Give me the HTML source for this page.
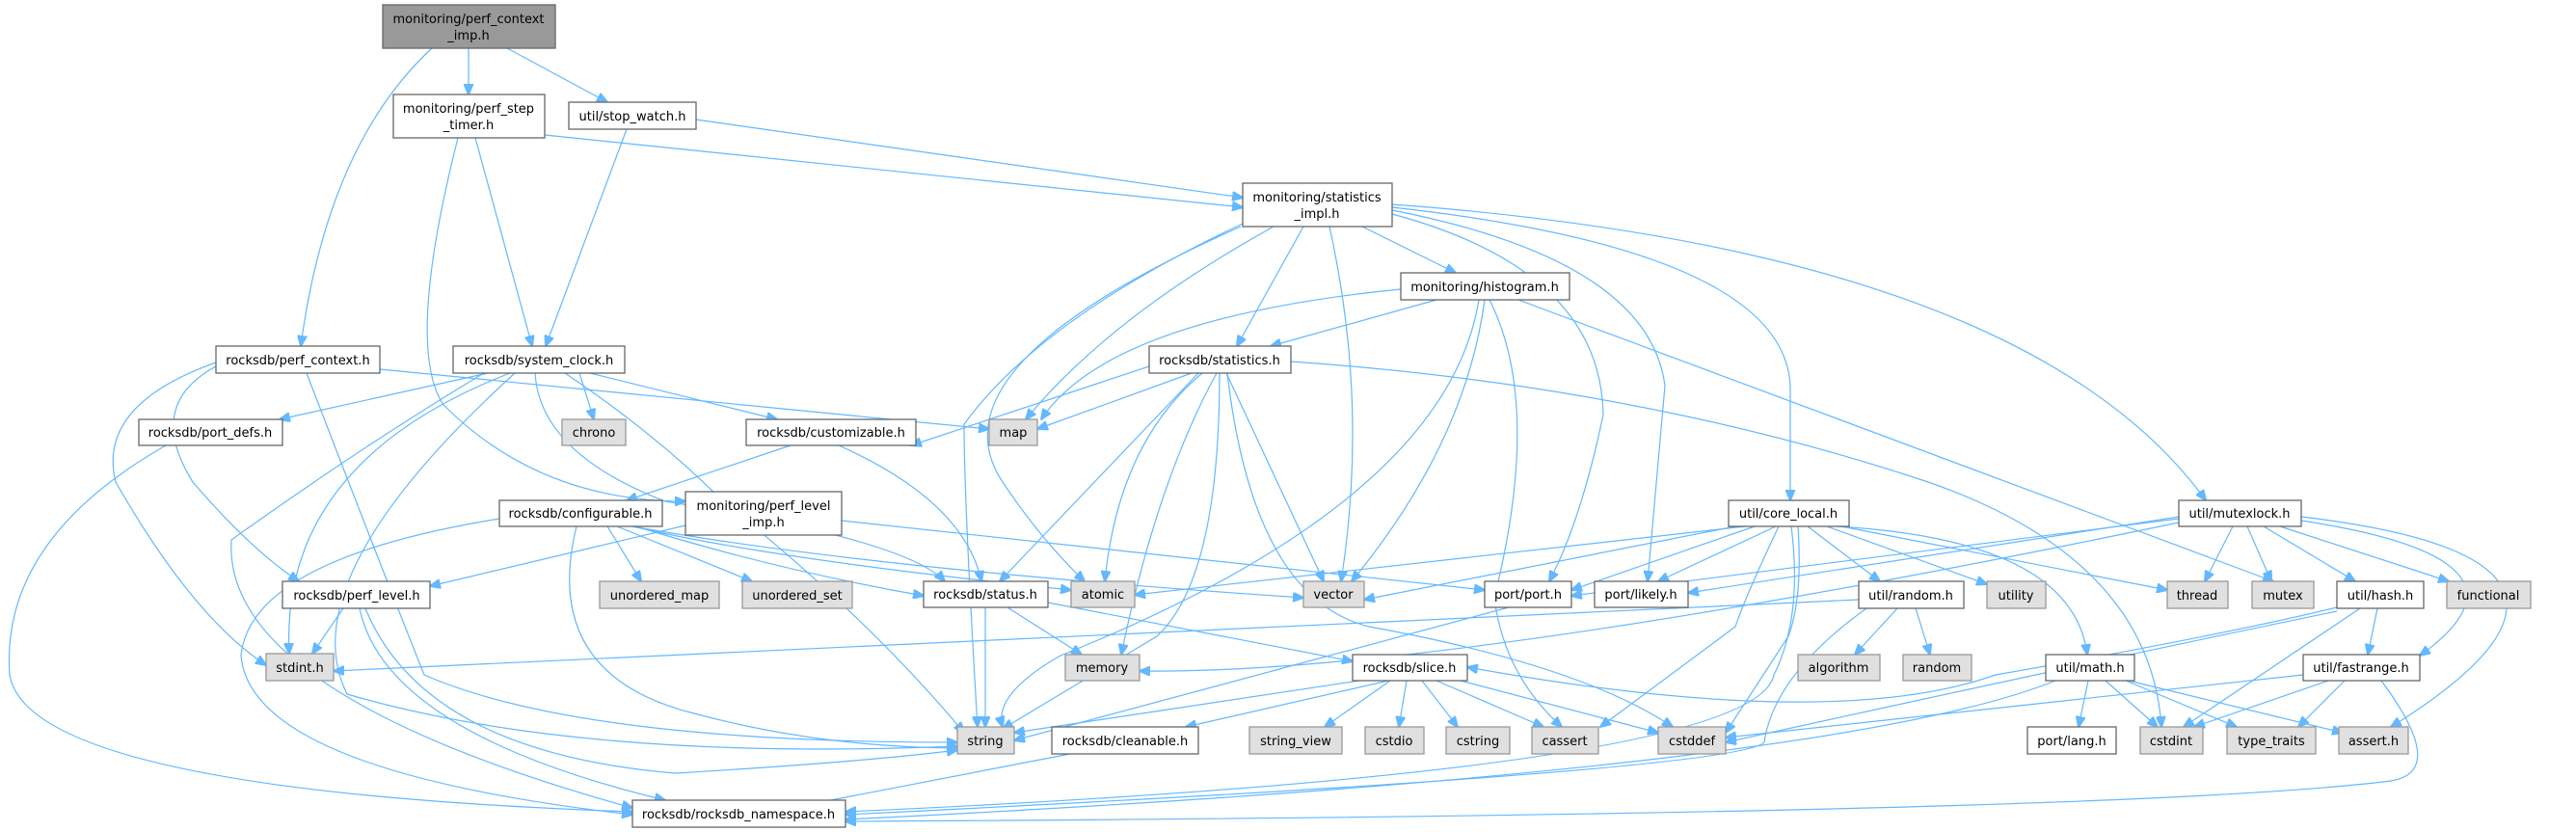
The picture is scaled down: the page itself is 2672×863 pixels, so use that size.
<!DOCTYPE html>
<html><head><meta charset="utf-8"><style>
html,body{margin:0;padding:0;background:#fff;}
svg{display:block}
text{font-family:"DejaVu Sans","Liberation Sans",sans-serif;font-size:13px;fill:#000;text-anchor:middle}
.n{fill:#fff;stroke:#666;stroke-width:1.3}
.g{fill:#e0e0e0;stroke:#999;stroke-width:1.3}
.r{fill:#999;stroke:#666;stroke-width:1.3}
path{fill:none;stroke:#63b8ff;stroke-width:1.2}
</style></head><body>
<svg width="2672" height="863" viewBox="0 0 2672 863" xmlns="http://www.w3.org/2000/svg">
<defs><marker id="a" markerWidth="12" markerHeight="10" refX="11" refY="5" orient="auto" markerUnits="userSpaceOnUse"><path d="M0,0 L12,5 L0,10 z" style="fill:#63b8ff;stroke:#63b8ff"/></marker></defs>
<g marker-end="url(#a)">
<path d="M448,50 Q340,150 312,359"/>
<path d="M486,50 L486,98"/>
<path d="M526,50 L630,106"/>
<path d="M565,140 L1289,215"/>
<path d="M493,143 L552,359"/>
<path d="M475,143 Q420,360 460,420 Q560,520 711,520"/>
<path d="M722,124 L1289,205"/>
<path d="M650,134 L566,359"/>
<path d="M394,383 L1026,445"/>
<path d="M224,380 Q150,420 200,500 Q260,570 310,603"/>
<path d="M224,376 Q100,420 120,500 Q200,640 276,690"/>
<path d="M318,387 Q400,600 440,700 Q600,770 993,770"/>
<path d="M506,387 L290,435"/>
<path d="M601,387 L616,435"/>
<path d="M612,387 L806,435"/>
<path d="M529,387 Q290,480 300,678"/>
<path d="M502,387 Q380,460 240,560 Q230,720 656,838"/>
<path d="M555,387 Q560,470 690,520 Q940,560 980,603"/>
<path d="M586,387 Q680,450 750,520 Q900,640 1000,760"/>
<path d="M534,387 Q300,600 360,720 Q600,790 993,774"/>
<path d="M172,462 Q0,560 10,700 Q30,820 656,842"/>
<path d="M820,462 L650,519"/>
<path d="M870,462 Q1000,520 1018,603"/>
<path d="M656,546 Q800,580 1111,612"/>
<path d="M656,546 Q900,590 1352,620"/>
<path d="M630,546 L665,603"/>
<path d="M640,546 L780,603"/>
<path d="M660,546 Q800,590 958,618"/>
<path d="M598,546 Q560,700 720,740 Q850,775 993,776"/>
<path d="M518,538 Q260,580 250,680 Q260,800 656,845"/>
<path d="M711,545 L446,608"/>
<path d="M873,540 L1540,612"/>
<path d="M356,631 L324,678"/>
<path d="M379,631 Q440,780 700,802 Q900,790 993,778"/>
<path d="M373,631 Q400,760 690,830"/>
<path d="M1413,235 L1510,283"/>
<path d="M1352,235 L1283,359"/>
<path d="M1321,235 Q1150,330 1064,435"/>
<path d="M1379,235 Q1420,420 1391,603"/>
<path d="M1287,235 Q960,380 1040,500 Q1080,560 1125,603"/>
<path d="M1289,232 Q1080,330 1000,440 Q1000,520 1014,754"/>
<path d="M1444,222 Q1660,280 1663,430 Q1640,540 1607,603"/>
<path d="M1444,218 Q1710,270 1727,400 L1709,603"/>
<path d="M1444,215 Q1850,260 1857,400 L1857,519"/>
<path d="M1444,212 Q2100,260 2288,519"/>
<path d="M1453,300 Q1150,330 1080,435"/>
<path d="M1490,311 L1318,359"/>
<path d="M1540,311 Q1520,460 1402,603"/>
<path d="M1545,311 Q1600,420 1550,620 Q1560,700 1620,754"/>
<path d="M1575,311 L2358,603"/>
<path d="M1534,311 Q1500,520 1100,680 Q1030,720 1040,754"/>
<path d="M1192,380 L945,462"/>
<path d="M1236,387 L1076,445"/>
<path d="M1243,387 L1037,603"/>
<path d="M1247,387 Q1160,460 1146,603"/>
<path d="M1262,387 Q1200,500 1163,679"/>
<path d="M1265,387 Q1265,600 1200,660 L1040,756"/>
<path d="M1272,387 L1373,603"/>
<path d="M1339,375 Q1700,400 2000,500 Q2230,580 2242,754"/>
<path d="M1273,387 Q1300,620 1420,650 Q1640,690 1735,754"/>
<path d="M1022,630 L1022,754"/>
<path d="M1045,630 L1122,679"/>
<path d="M1087,625 L1403,686"/>
<path d="M1410,706 L1052,760"/>
<path d="M1440,706 L1230,754"/>
<path d="M1442,706 L1374,754"/>
<path d="M1459,706 L1451,754"/>
<path d="M1475,706 L1512,754"/>
<path d="M1490,706 L1601,754"/>
<path d="M1515,706 L1720,760"/>
<path d="M1565,630 L1052,768"/>
<path d="M1110,782 L820,838"/>
<path d="M1810,546 L1177,617"/>
<path d="M1800,546 L1415,622"/>
<path d="M1820,546 L1630,612"/>
<path d="M1842,546 L1720,603"/>
<path d="M1875,546 L1950,603"/>
<path d="M1895,546 L2061,606"/>
<path d="M1910,546 L2248,612"/>
<path d="M1905,546 Q2150,560 2165,679"/>
<path d="M1845,546 Q1810,620 1800,650 L1660,754"/>
<path d="M1865,546 Q1870,620 1855,660 L1790,760"/>
<path d="M1858,546 Q1870,640 1840,700 Q1820,800 877,842"/>
<path d="M2260,538 L1630,618"/>
<path d="M2260,536 L1751,615"/>
<path d="M2316,546 L2287,603"/>
<path d="M2331,546 L2356,603"/>
<path d="M2348,546 L2443,603"/>
<path d="M2365,546 L2540,603"/>
<path d="M2387,540 Q2650,580 2510,680"/>
<path d="M2387,536 Q2760,580 2480,754"/>
<path d="M2260,542 Q1500,700 1182,696"/>
<path d="M1968,631 L1924,679"/>
<path d="M1987,631 L2002,679"/>
<path d="M1928,622 L346,696"/>
<path d="M1936,631 Q1840,700 1830,770 Q1800,800 877,845"/>
<path d="M2424,630 Q2300,660 2070,700 Q1900,760 1522,692"/>
<path d="M2448,631 L2265,754"/>
<path d="M2466,631 L2456,679"/>
<path d="M2424,634 Q2200,680 1790,770"/>
<path d="M2166,706 L2156,754"/>
<path d="M2184,706 L2238,754"/>
<path d="M2205,706 L2320,754"/>
<path d="M2208,706 L2430,760"/>
<path d="M2132,706 Q1900,800 877,850"/>
<path d="M2389,700 L1790,765"/>
<path d="M2415,706 L2276,754"/>
<path d="M2432,706 L2384,754"/>
<path d="M2470,706 Q2540,800 2480,810 Q2200,845 877,852"/>
</g>
<rect class="r" x="397" y="5" width="179" height="45"/><text x="486" y="24">monitoring/perf_context</text><text x="486" y="41">_imp.h</text>
<rect class="n" x="408" y="98" width="157" height="45"/><text x="486" y="117">monitoring/perf_step</text><text x="486" y="134">_timer.h</text>
<rect class="n" x="590" y="106" width="132" height="28"/><text x="656" y="125">util/stop_watch.h</text>
<rect class="n" x="224" y="359" width="170" height="28"/><text x="309" y="378">rocksdb/perf_context.h</text>
<rect class="n" x="470" y="359" width="178" height="28"/><text x="559" y="378">rocksdb/system_clock.h</text>
<rect class="n" x="144" y="435" width="149" height="27"/><text x="218" y="453">rocksdb/port_defs.h</text>
<rect class="g" x="583" y="435" width="66" height="27"/><text x="616" y="453">chrono</text>
<rect class="n" x="774" y="435" width="176" height="27"/><text x="862" y="453">rocksdb/customizable.h</text>
<rect class="n" x="518" y="519" width="169" height="27"/><text x="602" y="537">rocksdb/configurable.h</text>
<rect class="n" x="711" y="510" width="162" height="45"/><text x="792" y="529">monitoring/perf_level</text><text x="792" y="546">_imp.h</text>
<rect class="n" x="293" y="603" width="153" height="28"/><text x="370" y="622">rocksdb/perf_level.h</text>
<rect class="g" x="622" y="603" width="124" height="28"/><text x="684" y="622">unordered_map</text>
<rect class="g" x="770" y="603" width="114" height="28"/><text x="827" y="622">unordered_set</text>
<rect class="g" x="276" y="678" width="70" height="28"/><text x="311" y="697">stdint.h</text>
<rect class="n" x="656" y="830" width="221" height="28"/><text x="766" y="849">rocksdb/rocksdb_namespace.h</text>
<rect class="n" x="1289" y="190" width="155" height="45"/><text x="1366" y="209">monitoring/statistics</text><text x="1366" y="226">_impl.h</text>
<rect class="n" x="1453" y="283" width="175" height="28"/><text x="1540" y="302">monitoring/histogram.h</text>
<rect class="n" x="1192" y="359" width="147" height="28"/><text x="1265" y="378">rocksdb/statistics.h</text>
<rect class="g" x="1026" y="435" width="50" height="27"/><text x="1051" y="453">map</text>
<rect class="n" x="958" y="603" width="129" height="27"/><text x="1022" y="621">rocksdb/status.h</text>
<rect class="g" x="1111" y="603" width="66" height="27"/><text x="1144" y="621">atomic</text>
<rect class="g" x="1352" y="603" width="63" height="27"/><text x="1383" y="621">vector</text>
<rect class="n" x="1540" y="603" width="90" height="27"/><text x="1585" y="621">port/port.h</text>
<rect class="n" x="1654" y="603" width="97" height="27"/><text x="1702" y="621">port/likely.h</text>
<rect class="g" x="1105" y="679" width="77" height="27"/><text x="1143" y="697">memory</text>
<rect class="n" x="1403" y="679" width="119" height="27"/><text x="1462" y="697">rocksdb/slice.h</text>
<rect class="g" x="993" y="754" width="59" height="28"/><text x="1022" y="773">string</text>
<rect class="n" x="1091" y="754" width="152" height="28"/><text x="1167" y="773">rocksdb/cleanable.h</text>
<rect class="g" x="1296" y="754" width="96" height="28"/><text x="1344" y="773">string_view</text>
<rect class="g" x="1416" y="754" width="61" height="28"/><text x="1446" y="773">cstdio</text>
<rect class="g" x="1500" y="754" width="66" height="28"/><text x="1533" y="773">cstring</text>
<rect class="g" x="1589" y="754" width="69" height="28"/><text x="1623" y="773">cassert</text>
<rect class="g" x="1720" y="754" width="70" height="28"/><text x="1755" y="773">cstddef</text>
<rect class="n" x="1793" y="519" width="125" height="27"/><text x="1855" y="537">util/core_local.h</text>
<rect class="n" x="2260" y="519" width="127" height="27"/><text x="2323" y="537">util/mutexlock.h</text>
<rect class="n" x="1928" y="603" width="109" height="28"/><text x="1982" y="622">util/random.h</text>
<rect class="g" x="2061" y="603" width="61" height="28"/><text x="2091" y="622">utility</text>
<rect class="g" x="2248" y="603" width="63" height="28"/><text x="2279" y="622">thread</text>
<rect class="g" x="2336" y="603" width="64" height="28"/><text x="2368" y="622">mutex</text>
<rect class="n" x="2424" y="603" width="90" height="28"/><text x="2469" y="622">util/hash.h</text>
<rect class="g" x="2538" y="603" width="87" height="28"/><text x="2581" y="622">functional</text>
<rect class="g" x="1865" y="679" width="85" height="27"/><text x="1907" y="697">algorithm</text>
<rect class="g" x="1974" y="679" width="71" height="27"/><text x="2009" y="697">random</text>
<rect class="n" x="2122" y="679" width="92" height="27"/><text x="2168" y="697">util/math.h</text>
<rect class="n" x="2389" y="679" width="121" height="27"/><text x="2449" y="697">util/fastrange.h</text>
<rect class="n" x="2103" y="754" width="92" height="28"/><text x="2149" y="773">port/lang.h</text>
<rect class="g" x="2220" y="754" width="65" height="28"/><text x="2252" y="773">cstdint</text>
<rect class="g" x="2310" y="754" width="92" height="28"/><text x="2356" y="773">type_traits</text>
<rect class="g" x="2426" y="754" width="72" height="28"/><text x="2462" y="773">assert.h</text>
</svg>
</body></html>
